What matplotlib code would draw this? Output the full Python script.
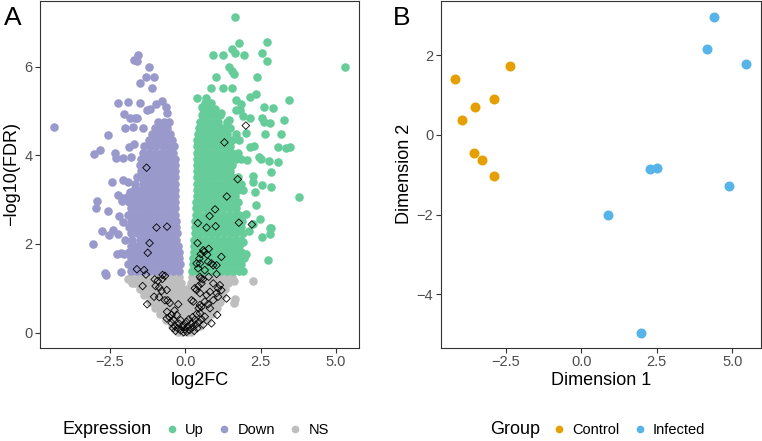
import numpy as np
import matplotlib.pyplot as plt
from matplotlib.lines import Line2D

plt.rcParams['font.family'] = ['Liberation Sans', 'DejaVu Sans']

# ---- panel A: volcano plot ----
# dense cores, written as (y, [x, ...]) rows
down_rows = [
    (1.40, [-1.80, -1.60, -1.40, -1.20, -1.00, -0.80, -0.60, -0.40, -0.20]),
    (1.54, [-1.90, -1.70, -1.50, -1.30, -1.10, -0.90, -0.70, -0.50, -0.30, -0.16]),
    (1.68, [-1.80, -1.60, -1.40, -1.20, -1.00, -0.80, -0.60, -0.40, -0.22]),
    (1.82, [-1.85, -1.70, -1.50, -1.30, -1.10, -0.90, -0.70, -0.50, -0.30, -0.20]),
    (1.96, [-1.80, -1.60, -1.40, -1.20, -1.00, -0.80, -0.60, -0.40, -0.24]),
    (2.10, [-1.75, -1.50, -1.30, -1.10, -0.90, -0.70, -0.50, -0.30]),
    (2.24, [-1.80, -1.60, -1.40, -1.20, -1.00, -0.80, -0.60, -0.40, -0.28]),
    (2.38, [-1.85, -1.70, -1.50, -1.30, -1.10, -0.90, -0.70, -0.50, -0.32]),
    (2.52, [-1.80, -1.60, -1.40, -1.20, -1.00, -0.80, -0.60, -0.40, -0.30]),
    (2.66, [-1.90, -1.70, -1.50, -1.30, -1.10, -0.90, -0.70, -0.50, -0.33]),
    (2.80, [-1.80, -1.60, -1.40, -1.20, -1.00, -0.80, -0.60, -0.40, -0.33]),
    (2.94, [-1.85, -1.70, -1.50, -1.30, -1.10, -0.90, -0.70, -0.50, -0.34]),
    (3.08, [-1.75, -1.60, -1.40, -1.20, -1.00, -0.80, -0.60, -0.40, -0.34]),
    (3.22, [-1.70, -1.50, -1.30, -1.10, -0.90, -0.70, -0.50, -0.34]),
    (3.36, [-1.65, -1.40, -1.20, -1.00, -0.80, -0.60, -0.40, -0.34]),
    (3.50, [-1.60, -1.50, -1.30, -1.10, -0.90, -0.70, -0.50, -0.35]),
    (3.64, [-1.45, -1.25, -1.05, -0.85, -0.65, -0.45, -0.34]),
    (3.78, [-1.50, -1.30, -1.10, -0.90, -0.70, -0.50, -0.35]),
    (3.92, [-1.45, -1.25, -1.05, -0.85, -0.65, -0.45, -0.34]),
    (4.06, [-1.40, -1.20, -1.00, -0.80, -0.60, -0.40]),
    (4.20, [-1.35, -1.15, -0.95, -0.75, -0.55, -0.38]),
    (4.34, [-1.20, -1.00, -0.80, -0.60, -0.42]),
    (4.48, [-1.10, -0.90, -0.70, -0.50]),
    (4.62, [-1.00, -0.80, -0.60]),
    (4.76, [-0.90, -0.70, -0.55]),
]
up_rows = [
    (1.40, [0.22, 0.40, 0.60, 0.80, 1.00, 1.20, 1.40, 1.60, 1.80, 1.92]),
    (1.54, [0.25, 0.45, 0.65, 0.85, 1.05, 1.25, 1.45, 1.65, 1.85]),
    (1.68, [0.26, 0.40, 0.60, 0.80, 1.00, 1.20, 1.40, 1.60, 1.80, 1.95]),
    (1.82, [0.28, 0.45, 0.65, 0.85, 1.05, 1.25, 1.45, 1.65, 1.85]),
    (1.96, [0.30, 0.40, 0.60, 0.80, 1.00, 1.20, 1.40, 1.60, 1.80]),
    (2.10, [0.30, 0.45, 0.65, 0.85, 1.05, 1.25, 1.45, 1.65, 1.85]),
    (2.24, [0.32, 0.50, 0.70, 0.90, 1.10, 1.30, 1.50, 1.70, 1.90]),
    (2.38, [0.32, 0.45, 0.65, 0.85, 1.05, 1.25, 1.45, 1.65, 1.85]),
    (2.52, [0.34, 0.50, 0.70, 0.90, 1.10, 1.30, 1.50, 1.70, 1.88]),
    (2.66, [0.35, 0.45, 0.65, 0.85, 1.05, 1.25, 1.45, 1.65, 1.80]),
    (2.80, [0.36, 0.50, 0.70, 0.90, 1.10, 1.30, 1.50, 1.70]),
    (2.94, [0.37, 0.55, 0.75, 0.95, 1.15, 1.35, 1.55, 1.75]),
    (3.08, [0.38, 0.50, 0.70, 0.90, 1.10, 1.30, 1.50, 1.65]),
    (3.22, [0.38, 0.55, 0.75, 0.95, 1.15, 1.35, 1.55, 1.75, 1.90]),
    (3.36, [0.40, 0.50, 0.70, 0.90, 1.10, 1.30, 1.50, 1.70, 1.85]),
    (3.50, [0.40, 0.55, 0.75, 0.95, 1.15, 1.35, 1.55, 1.75]),
    (3.64, [0.40, 0.50, 0.70, 0.90, 1.10, 1.30, 1.50]),
    (3.78, [0.40, 0.55, 0.75, 0.95, 1.15, 1.35, 1.55]),
    (3.92, [0.40, 0.50, 0.70, 0.90, 1.10, 1.30, 1.50, 1.70, 1.85]),
    (4.06, [0.40, 0.55, 0.75, 0.95, 1.15, 1.35, 1.55, 1.75]),
    (4.20, [0.40, 0.50, 0.70, 0.90, 1.10, 1.30, 1.50]),
    (4.34, [0.40, 0.55, 0.75, 0.95, 1.15, 1.35, 1.55, 1.80]),
    (4.48, [0.42, 0.60, 0.80, 1.00, 1.20, 1.40, 1.70]),
    (4.62, [0.45, 0.65, 0.85, 1.05, 1.25, 1.50]),
    (4.76, [0.50, 0.70, 0.90, 1.10, 1.40]),
    (4.90, [0.55, 0.75, 0.95, 1.15]),
    (5.04, [0.60, 0.80, 1.00]),
    (5.18, [0.65, 0.85]),
]
ns_rows = [
    (1.26, [-1.80, -1.60, -1.40, -1.20, -1.00, -0.80, -0.60, -0.40, -0.20,
            0.22, 0.40, 0.60, 0.80, 1.00, 1.20, 1.40]),
    (1.12, [-1.65, -1.45, -1.25, -1.05, -0.85, -0.65, -0.45, -0.25, -0.14,
            0.18, 0.30, 0.50, 0.70, 0.90, 1.10, 1.30, 1.42]),
    (0.98, [-1.50, -1.30, -1.10, -0.90, -0.70, -0.50, -0.30, -0.10, 0.05,
            0.20, 0.40, 0.60, 0.80, 1.00, 1.20, 1.32]),
    (0.84, [-1.35, -1.15, -0.95, -0.75, -0.55, -0.35, -0.15, 0.05, 0.25,
            0.45, 0.65, 0.85, 1.05, 1.22]),
    (0.70, [-1.15, -1.00, -0.80, -0.60, -0.40, -0.20, 0.00, 0.20, 0.40,
            0.60, 0.80, 1.00, 1.15]),
    (0.56, [-1.00, -0.85, -0.65, -0.45, -0.25, -0.05, 0.15, 0.35, 0.55,
            0.75, 0.95, 1.05]),
    (0.42, [-0.85, -0.70, -0.50, -0.30, -0.10, 0.10, 0.30, 0.50, 0.70, 0.90]),
    (0.28, [-0.65, -0.45, -0.25, -0.05, 0.15, 0.35, 0.55, 0.72]),
    (0.14, [-0.45, -0.25, -0.05, 0.15, 0.35, 0.50]),
    (0.02, [-0.25, -0.10, 0.05, 0.20]),
]

# scattered points outside the cores
down_extra = [
    (-1.55, 6.26), (-1.71, 6.14), (-1.60, 6.13), (-1.21, 5.99), (-1.31, 5.77),
    (-1.04, 5.77), (-1.50, 5.64), (-1.11, 5.52), (-2.24, 5.19), (-1.91, 5.20),
    (-1.50, 5.17), (-2.04, 4.93), (-1.65, 4.84), (-1.27, 5.02), (-1.17, 5.04),
    (-0.98, 5.16), (-0.78, 5.23), (-0.65, 5.09), (-0.60, 4.95), (-1.99, 4.62),
    (-2.57, 4.46), (-4.36, 4.64), (-3.03, 4.04), (-2.83, 4.11), (-2.31, 4.05),
    (-2.28, 3.93), (-2.06, 3.94), (-1.78, 3.96), (-1.87, 4.18), (-1.70, 4.26),
    (-2.44, 3.39), (-2.05, 3.45), (-1.88, 3.39), (-2.23, 3.10), (-2.08, 3.03),
    (-2.10, 2.98), (-1.92, 3.06), (-1.83, 3.17), (-2.92, 2.97), (-2.94, 2.82),
    (-2.55, 2.74), (-2.18, 2.64), (-2.75, 2.29), (-2.51, 2.21), (-2.38, 2.31),
    (-2.21, 2.22), (-3.04, 2.01), (-2.27, 1.78), (-2.14, 1.80), (-2.03, 1.78),
    (-2.67, 1.35), (-2.62, 1.31), (-2.14, 1.37), (-1.72, 4.63), (-1.39, 4.61),
    (-1.83, 4.85), (-1.61, 4.83), (-2.00, 2.10), (-2.05, 2.50),
]
up_extra = [
    (1.64, 7.12), (1.79, 6.53), (2.72, 6.56), (1.55, 6.40), (1.64, 6.30),
    (0.93, 6.26), (1.26, 6.26), (1.94, 6.26), (2.54, 6.31), (2.72, 6.13),
    (5.30, 5.99), (1.46, 5.99), (1.54, 5.90), (1.62, 5.84), (1.01, 5.77),
    (2.37, 5.76), (0.85, 5.52), (1.26, 5.51), (1.54, 5.51), (0.69, 5.30),
    (1.68, 5.25), (2.16, 5.31), (2.34, 5.38), (3.45, 5.25), (1.86, 5.15),
    (1.68, 5.03), (1.81, 5.03), (2.60, 5.08), (2.91, 5.07), (1.92, 4.89),
    (2.14, 4.84), (2.53, 4.85), (3.27, 4.80), (2.61, 4.76), (2.80, 4.72),
    (2.66, 4.48), (3.16, 4.48), (3.09, 4.18), (3.33, 4.16), (3.49, 4.18),
    (2.28, 4.20), (2.14, 4.18), (2.44, 3.96), (2.50, 3.92), (2.78, 3.88),
    (3.08, 3.84), (2.86, 3.63), (2.25, 3.54), (2.25, 3.39), (2.53, 3.32),
    (2.86, 3.28), (2.30, 3.17), (3.77, 3.07), (2.36, 2.87), (1.86, 2.64),
    (2.03, 2.68), (2.47, 2.57), (2.25, 2.46), (2.80, 2.35), (2.55, 2.16),
    (2.80, 2.23), (2.86, 2.35), (2.03, 1.78), (1.92, 2.05), (2.74, 1.63),
    (2.10, 2.30), (2.05, 3.90), (2.00, 4.50), (1.20, 4.95), (1.45, 4.80),
    (0.40, 5.30), (0.55, 5.10),
]
ns_extra = [
    (-1.77, 1.11), (-1.90, 1.20), (1.62, 1.16), (2.25, 1.16), (1.64, 0.75),
    (1.62, 0.66), (1.55, 1.25),
]

# highlighted genes (open diamonds)
marked = [
    (2.01, 4.67), (1.30, 4.29), (-1.28, 3.72), (1.74, 3.46), (1.38, 3.07),
    (0.99, 2.78), (0.81, 2.63), (0.42, 2.47), (0.71, 2.37), (1.01, 2.40),
    (1.78, 2.48), (2.21, 2.44), (0.41, 2.02), (0.78, 1.89), (0.63, 1.82),
    (0.52, 1.77), (0.73, 1.76), (1.20, 1.71), (0.47, 1.67), (0.38, 1.56),
    (0.49, 1.56), (0.76, 1.60), (0.87, 1.56), (1.04, 1.52), (0.60, 1.86),
    (0.43, 1.45), (0.65, 1.41), (0.93, 1.52),
    (-0.95, 2.37), (-0.60, 2.39), (-1.18, 2.02), (-1.24, 1.80), (-1.60, 1.43),
    (-1.36, 1.41),
    (-1.30, 1.31), (-0.75, 1.30), (-0.76, 1.21), (-0.91, 1.17), (-1.01, 1.20),
    (-0.67, 1.28), (-1.41, 1.05), (-0.98, 1.05), (-0.86, 1.02), (-0.61, 0.96),
    (-0.78, 0.94), (-1.03, 0.81), (-0.86, 0.80), (-0.67, 0.73), (-1.26, 0.64),
    (-0.58, 0.73), (-0.51, 0.67), (-0.23, 0.64), (-0.60, 0.47), (-0.45, 0.40),
    (-0.61, 0.32), (-0.40, 0.29), (-0.28, 0.40),
    (0.52, 1.22), (0.78, 1.26), (0.59, 1.20), (1.04, 1.32), (0.49, 1.26),
    (0.54, 1.11), (0.93, 1.11), (1.15, 1.07), (0.44, 1.05), (0.38, 0.96),
    (0.32, 1.00), (0.49, 0.89), (1.04, 0.89), (1.09, 0.81), (1.37, 0.77),
    (0.82, 0.92), (0.71, 0.85), (1.09, 1.00), (1.20, 0.96), (0.21, 0.73),
    (0.27, 0.70), (0.65, 0.70), (0.93, 0.73), (0.76, 0.64), (0.54, 0.58),
    (0.49, 0.62), (0.82, 0.55), (0.49, 0.44), (0.65, 0.36), (1.06, 0.40),
    (0.87, 0.21), (0.32, 0.29),
    (-0.45, 0.22), (-0.35, 0.15), (-0.25, 0.10), (-0.15, 0.05), (-0.05, 0.01),
    (0.05, 0.02), (0.15, 0.06), (0.25, 0.12), (0.35, 0.18), (0.45, 0.24),
    (-0.32, 0.04), (0.30, 0.04), (-0.20, 0.20), (0.20, 0.20), (0.00, 0.08),
    (-0.10, 0.13), (0.10, 0.14), (-0.40, 0.10), (0.40, 0.10), (0.55, 0.30),
    (-0.52, 0.35), (0.60, 0.18), (-0.15, 0.28), (0.12, 0.30), (0.25, 0.35),
    (0.38, 0.42), (-0.35, 0.50), (0.45, 0.55), (-0.05, 0.18), (0.05, 0.24),
]

expr_labels = ['Up', 'Down', 'NS']
expr_colors = ['#66CC99', '#9999CC', '#BEBEBE']

# ---- panel B: MDS plot ----
ctrl_dim1 = [-4.18, -2.38, -3.53, -2.90, -3.96, -3.58, -3.29, -2.89]
ctrl_dim2 = [1.41, 1.72, 0.71, 0.91, 0.37, -0.46, -0.63, -1.04]
inf_dim1 = [4.39, 4.18, 5.46, 2.28, 2.49, 4.89, 0.88, 1.96]
inf_dim2 = [2.97, 2.16, 1.77, -0.86, -0.84, -1.27, -2.02, -4.96]
group_labels = ['Control', 'Infected']
group_colors = ['#E69F00', '#56B4E9']


def unroll(rows):
    return [(x, y) for y, xs in rows for x in xs]


ns_pts = np.array(unroll(ns_rows) + ns_extra)
down_pts = np.array(unroll(down_rows) + down_extra)
up_pts = np.array(unroll(up_rows) + up_extra)
marked = np.array(marked)

fig = plt.figure(figsize=(7.62, 4.41), dpi=100)
W, H = 762, 441
bottom = 1 - 347.7 / H
height = 346.7 / H
axA = fig.add_axes([40 / W, bottom, 319 / W, height])
axB = fig.add_axes([441 / W, bottom, 319.5 / W, height])

pt = 38
axA.scatter(ns_pts[:, 0], ns_pts[:, 1], s=pt, color=expr_colors[2], linewidths=0)
axA.scatter(down_pts[:, 0], down_pts[:, 1], s=pt, color=expr_colors[1], linewidths=0)
axA.scatter(up_pts[:, 0], up_pts[:, 1], s=pt, color=expr_colors[0], linewidths=0)
axA.scatter(marked[:, 0], marked[:, 1], s=15, marker='D', facecolors='none',
            edgecolors='black', linewidths=0.6)
axA.set_xlim(-4.81, 5.76)
axA.set_ylim(-0.34, 7.48)
axA.set_xticks([-2.5, 0, 2.5, 5.0])
axA.set_yticks([0, 2, 4, 6])
axA.set_xlabel('log2FC', fontsize=13, labelpad=2)
axA.set_ylabel('\u2212log10(FDR)', fontsize=13, labelpad=3)

axB.scatter(ctrl_dim1, ctrl_dim2, s=52, color=group_colors[0], linewidths=0)
axB.scatter(inf_dim1, inf_dim2, s=52, color=group_colors[1], linewidths=0)
axB.set_xlim(-4.66, 5.94)
axB.set_ylim(-5.34, 3.36)
axB.set_xticks([-2.5, 0, 2.5, 5.0])
axB.set_yticks([-4, -2, 0, 2])
axB.set_xlabel('Dimension 1', fontsize=13, labelpad=2)
axB.set_ylabel('Dimension 2', fontsize=13, labelpad=3)

for ax in (axA, axB):
    ax.set_xticklabels(['\u22122.5', '0.0', '2.5', '5.0'])
    for sp in ax.spines.values():
        sp.set_color('#333333')
        sp.set_linewidth(0.8)
    ax.tick_params(length=3.5, width=0.8, color='#333333', labelcolor='#4D4D4D',
                   labelsize=10.5, pad=2)

axB.set_yticklabels(['\u22124', '\u22122', '0', '2'])

fig.text(4 / W, 1 - 18 / H, 'A', fontsize=19, va='center', ha='left')
fig.text(393 / W, 1 - 18 / H, 'B', fontsize=19, va='center', ha='left')

# legends below each panel
ly = 1 - 430 / H
fig.text(63 / W, ly, 'Expression', fontsize=13, va='center', ha='left')
h1 = [Line2D([], [], ls='', marker='o', markersize=5.5, color=c, markeredgewidth=0)
      for c in expr_colors]
fig.legend(h1, expr_labels, loc='center left', bbox_to_anchor=(166 / W, ly),
           ncol=3, frameon=False, fontsize=10.5, handlelength=0.8,
           handletextpad=0.5, columnspacing=1.0, borderpad=0, borderaxespad=0)

fig.text(490 / W, ly, 'Group', fontsize=13, va='center', ha='left')
h2 = [Line2D([], [], ls='', marker='o', markersize=5.5, color=c, markeredgewidth=0)
      for c in group_colors]
fig.legend(h2, group_labels, loc='center left', bbox_to_anchor=(553 / W, ly),
           ncol=2, frameon=False, fontsize=10.5, handlelength=0.8,
           handletextpad=0.5, columnspacing=1.0, borderpad=0, borderaxespad=0)

fig.savefig('out.png', dpi=100)
